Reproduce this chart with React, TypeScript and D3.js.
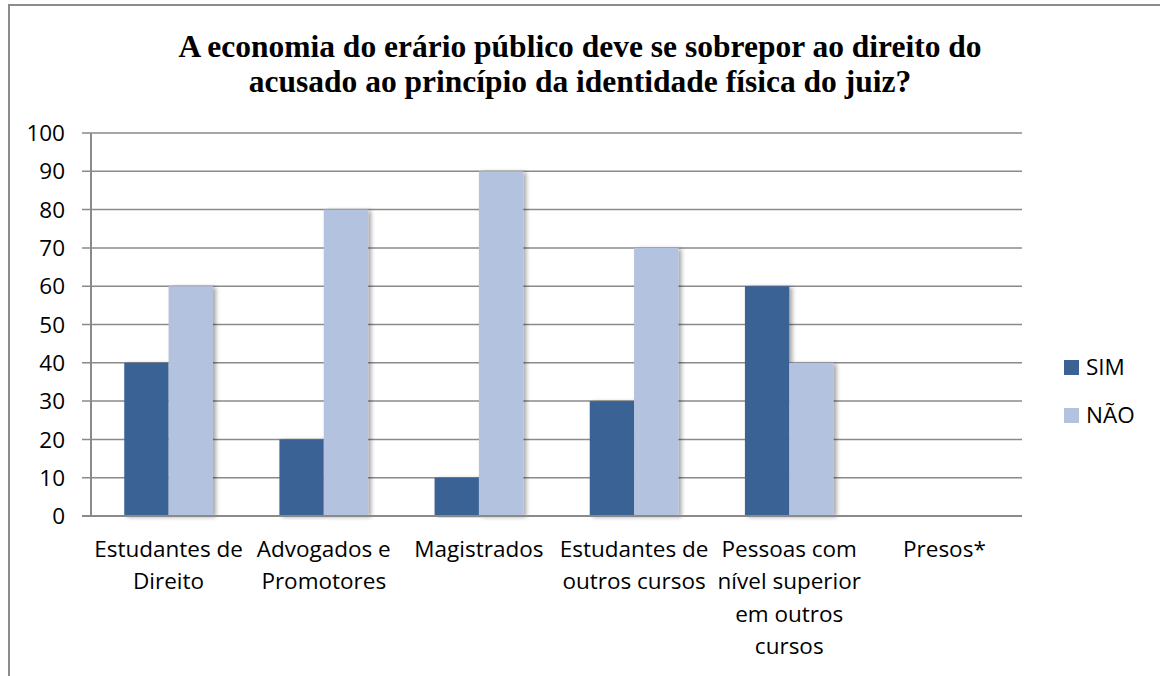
import React from "react"
import * as d3 from "d3"

const categories = [
  ["Estudantes de", "Direito"],
  ["Advogados e", "Promotores"],
  ["Magistrados"],
  ["Estudantes de", "outros cursos"],
  ["Pessoas com", "nível superior", "em outros", "cursos"],
  ["Presos*"],
]
const seriesNames = ["SIM", "NÃO"]
const simValues = [40, 20, 10, 30, 60, null]
const naoValues = [60, 80, 90, 70, 40, null]
const yTicks = [0, 10, 20, 30, 40, 50, 60, 70, 80, 90, 100]
const titleLines = [
  "A economia do erário público deve se sobrepor ao direito do",
  "acusado ao princípio da identidade física do juiz?",
]

const W = 1160
const H = 676
const colors = ["#3b6294", "#b3c3df"]
const gridColor = "#8a8a8a"
const font = "'Open Sans', sans-serif"

export default function App() {
  const plot = { left: 91, right: 1022, top: 133, bottom: 516 }

  const x = d3
    .scaleBand()
    .domain(categories.map((_, i) => String(i)))
    .range([plot.left, plot.right])

  const bandW = x.bandwidth()
  // Excel gap width of 150% -> each bar = band / 3.5
  const barW = bandW / 3.5
  const xInner = d3
    .scaleBand()
    .domain(seriesNames)
    .range([bandW / 2 - barW, bandW / 2 + barW])

  const y = d3.scaleLinear().domain([0, 100]).range([plot.bottom, plot.top])

  const series = [simValues, naoValues]

  return (
    <div style={{ position: "fixed", left: 0, top: 0, width: W, height: H, background: "#fff" }}>
      <svg width={W} height={H} style={{ display: "block" }}>
        <defs>
          <filter id="barShadow" x="-20%" y="-5%" width="160%" height="110%">
            <feDropShadow dx="3" dy="1" stdDeviation="2" floodColor="#000" floodOpacity="0.35" />
          </filter>
        </defs>

        {/* chart border */}
        <path d={`M9,${H} L9,5 L${W},5`} fill="none" stroke="#8c8c8c" strokeWidth={2} />

        {/* title */}
        {titleLines.map((t, i) => (
          <text
            key={i}
            x={580}
            y={57 + i * 35}
            textAnchor="middle"
            fontFamily="'Liberation Serif', 'Times New Roman', serif"
            fontWeight="bold"
            fontSize={31.5}
            fill="#000"
          >
            {t}
          </text>
        ))}

        {/* gridlines + y ticks */}
        {yTicks.map((t) => (
          <g key={t}>
            <line
              x1={plot.left - 9}
              x2={plot.right}
              y1={y(t)}
              y2={y(t)}
              stroke={gridColor}
              strokeWidth={1.5}
            />
            <text
              x={65}
              y={y(t)}
              dy="0.36em"
              textAnchor="end"
              fontFamily={font}
              fontSize={22.5}
              fill="#000"
            >
              {t}
            </text>
          </g>
        ))}

        {/* bars */}
        {series.map((vals, si) =>
          vals.map((v, ci) =>
            v == null ? null : (
              <rect
                key={`${si}-${ci}`}
                x={(x(String(ci)) as number) + (xInner(seriesNames[si]) as number)}
                y={y(v)}
                width={xInner.bandwidth()}
                height={y(0) - y(v)}
                fill={colors[si]}
                filter="url(#barShadow)"
              />
            )
          )
        )}

        {/* axes */}
        <line x1={plot.left} x2={plot.left} y1={plot.top} y2={plot.bottom} stroke={gridColor} strokeWidth={2} />
        <line x1={plot.left - 9} x2={plot.right} y1={plot.bottom} y2={plot.bottom} stroke={gridColor} strokeWidth={2} />

        {/* category labels */}
        {categories.map((lines, ci) => (
          <text
            key={ci}
            textAnchor="middle"
            fontFamily={font}
            fontSize={22.5}
            fill="#000"
          >
            {lines.map((l, li) => (
              <tspan key={li} x={(x(String(ci)) as number) + bandW / 2} y={557 + li * 32.4}>
                {l}
              </tspan>
            ))}
          </text>
        ))}

        {/* legend */}
        {seriesNames.map((name, i) => (
          <g key={name} transform={`translate(1064, ${360 + i * 48})`}>
            <rect x={0} y={0} width={15} height={15} fill={colors[i]} />
            <text x={22} y={15} fontFamily={font} fontSize={22.5} fill="#000">
              {name}
            </text>
          </g>
        ))}
      </svg>
    </div>
  )
}
